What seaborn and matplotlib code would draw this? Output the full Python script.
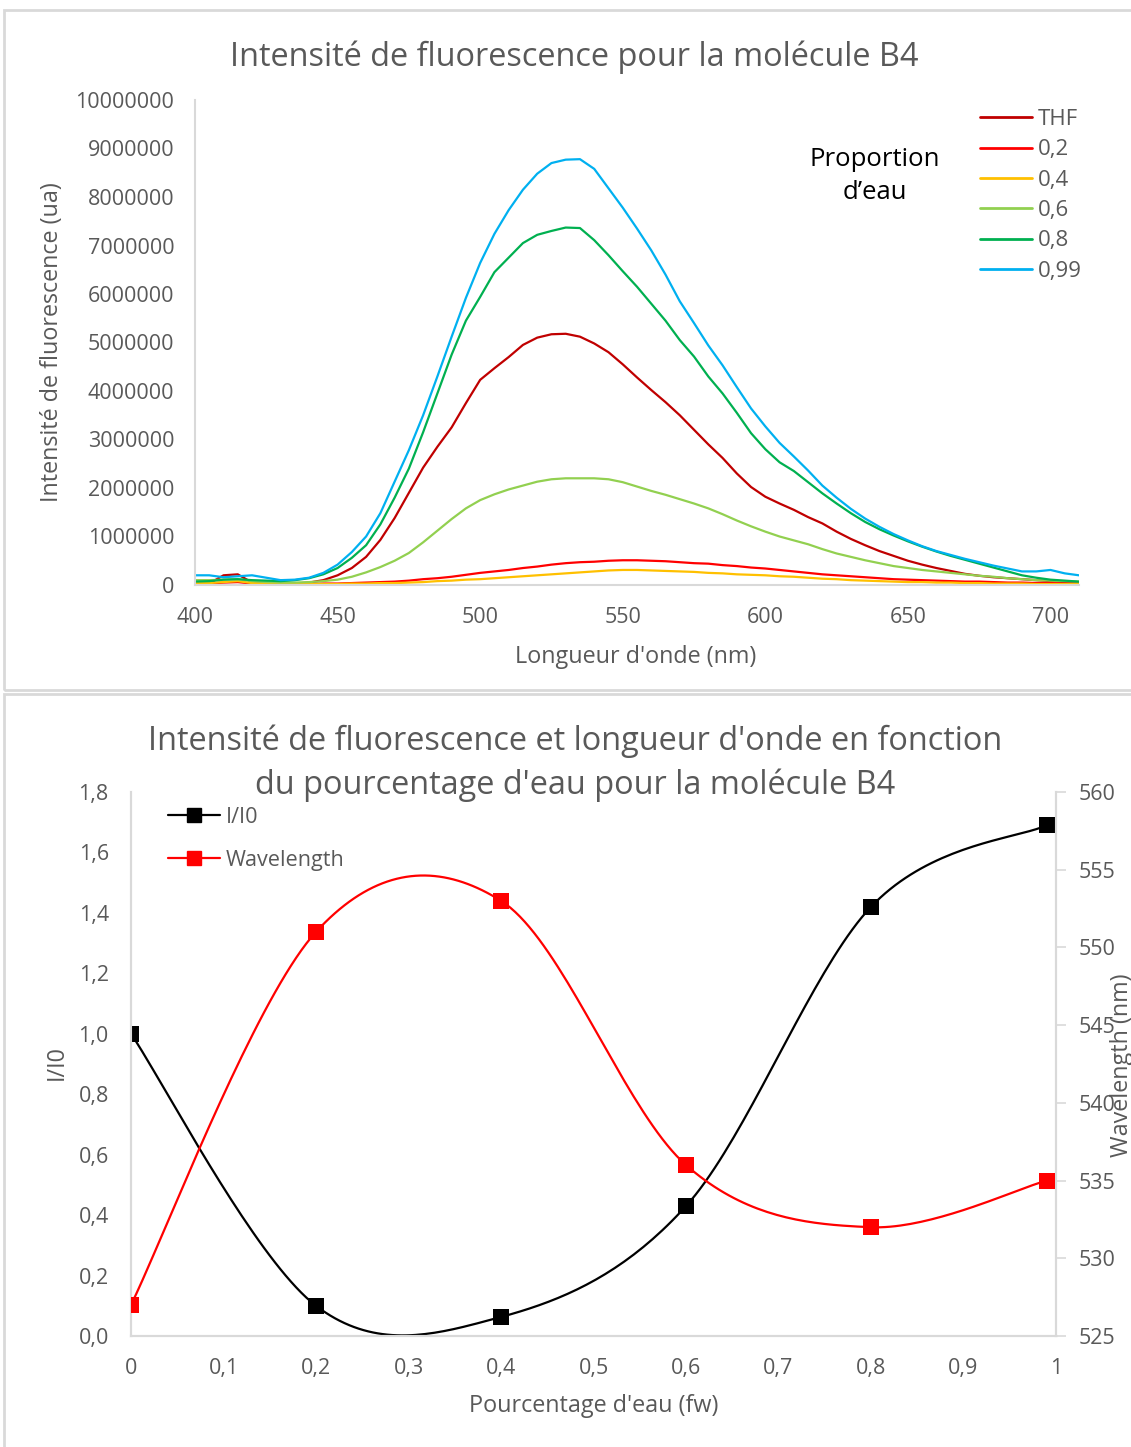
import numpy as np
import pandas as pd
import seaborn as sns
import matplotlib.pyplot as plt
from matplotlib.patches import Rectangle
from matplotlib.lines import Line2D
from matplotlib.ticker import FuncFormatter, MultipleLocator

# ---- spectra (intensity in millions of a.u.), read every 5 nm ----
wavelengths = list(range(400, 715, 5))

thf = [0.00, 0.03, 0.20, 0.22, 0.05, 0.02, 0.02, 0.03, 0.05, 0.10, 0.20,
       0.35, 0.58, 0.93, 1.38, 1.90, 2.42, 2.85, 3.25, 3.75, 4.23,
       4.47, 4.70, 4.95, 5.10, 5.17, 5.18, 5.12, 4.98, 4.80, 4.55,
       4.28, 4.02, 3.77, 3.50, 3.20, 2.90, 2.62, 2.30, 2.02, 1.82,
       1.68, 1.55, 1.40, 1.27, 1.10, 0.95, 0.82, 0.70, 0.60, 0.50,
       0.42, 0.35, 0.29, 0.23, 0.19, 0.16, 0.14, 0.12, 0.10, 0.08,
       0.06, 0.05]
fw_02 = [0.03, 0.03, 0.05, 0.06, 0.03, 0.02, 0.02, 0.02, 0.02, 0.03, 0.03,
         0.04, 0.05, 0.06, 0.07, 0.09, 0.12, 0.14, 0.17, 0.21, 0.25,
         0.28, 0.31, 0.35, 0.38, 0.42, 0.45, 0.47, 0.48, 0.50, 0.51,
         0.51, 0.50, 0.49, 0.47, 0.45, 0.44, 0.41, 0.39, 0.36, 0.34,
         0.31, 0.28, 0.25, 0.22, 0.20, 0.18, 0.16, 0.14, 0.12, 0.11,
         0.10, 0.09, 0.08, 0.07, 0.07, 0.06, 0.05, 0.05, 0.04, 0.04,
         0.03, 0.03]
fw_04 = [0.04, 0.04, 0.06, 0.08, 0.04, 0.03, 0.02, 0.02, 0.02, 0.02, 0.02,
         0.03, 0.03, 0.04, 0.04, 0.05, 0.06, 0.08, 0.09, 0.11, 0.12,
         0.14, 0.16, 0.18, 0.20, 0.22, 0.24, 0.26, 0.28, 0.30, 0.31,
         0.31, 0.30, 0.29, 0.28, 0.27, 0.25, 0.24, 0.22, 0.21, 0.20,
         0.18, 0.17, 0.15, 0.13, 0.12, 0.10, 0.09, 0.08, 0.07, 0.06,
         0.06, 0.05, 0.05, 0.04, 0.04, 0.03, 0.03, 0.03, 0.02, 0.02,
         0.02, 0.02]
fw_06 = [0.10, 0.10, 0.11, 0.12, 0.08, 0.06, 0.05, 0.05, 0.06, 0.08, 0.11,
         0.17, 0.26, 0.37, 0.50, 0.66, 0.88, 1.12, 1.36, 1.58, 1.75,
         1.87, 1.97, 2.05, 2.13, 2.18, 2.20, 2.20, 2.20, 2.18, 2.12,
         2.03, 1.94, 1.86, 1.77, 1.68, 1.58, 1.46, 1.33, 1.21, 1.10,
         1.00, 0.92, 0.84, 0.74, 0.65, 0.58, 0.51, 0.45, 0.39, 0.35,
         0.31, 0.28, 0.25, 0.22, 0.19, 0.17, 0.14, 0.12, 0.10, 0.09,
         0.08, 0.07]
fw_08 = [0.07, 0.08, 0.11, 0.12, 0.10, 0.09, 0.08, 0.10, 0.14, 0.22, 0.35,
         0.56, 0.82, 1.25, 1.80, 2.40, 3.15, 3.95, 4.75, 5.45, 5.94,
         6.45, 6.75, 7.05, 7.22, 7.30, 7.37, 7.36, 7.11, 6.80, 6.47,
         6.15, 5.80, 5.45, 5.05, 4.71, 4.30, 3.95, 3.55, 3.13, 2.80,
         2.53, 2.35, 2.12, 1.89, 1.68, 1.48, 1.30, 1.15, 1.02, 0.90,
         0.79, 0.69, 0.60, 0.52, 0.44, 0.36, 0.28, 0.20, 0.15, 0.11,
         0.09, 0.07]
fw_099 = [0.20, 0.20, 0.16, 0.18, 0.20, 0.15, 0.10, 0.11, 0.15, 0.25, 0.42,
          0.68, 1.00, 1.48, 2.13, 2.78, 3.50, 4.30, 5.12, 5.92, 6.64,
          7.24, 7.73, 8.15, 8.48, 8.70, 8.77, 8.78, 8.58, 8.18, 7.78,
          7.35, 6.90, 6.40, 5.85, 5.40, 4.94, 4.53, 4.08, 3.64, 3.27,
          2.93, 2.65, 2.36, 2.05, 1.80, 1.57, 1.37, 1.20, 1.05, 0.92,
          0.80, 0.70, 0.62, 0.54, 0.47, 0.40, 0.34, 0.28, 0.28, 0.31,
          0.24, 0.20]

series_names = ["THF", "0,2", "0,4", "0,6", "0,8", "0,99"]
series_colors = ["#C00000", "#FF0000", "#FFC000", "#92D050", "#00B050", "#00B0F0"]

# ---- ratio / wavelength vs water fraction ----
water_frac = [0, 0.2, 0.4, 0.6, 0.8, 0.99]
i_over_i0 = [1.00, 0.10, 0.063, 0.43, 1.42, 1.69]
peak_wl = [527, 551, 553, 536, 532, 535]

W, H = 1131, 1447
GREY = "#595959"
FRAME = "#D9D9D9"

sns.set_theme(style="white")
plt.rcParams["font.family"] = ["Open Sans", "DejaVu Sans"]

fig = plt.figure(figsize=(W / 100, H / 100), dpi=100)


def fx(x):
    return x / W


def fy(y):
    return 1 - y / H


def smooth(xs, ys, n=40):
    """Excel-like smoothed line (Catmull-Rom as cubic Bezier)."""
    pts = np.column_stack([xs, ys]).astype(float)
    p = np.vstack([pts[0], pts, pts[-1]])
    out = []
    t = np.linspace(0, 1, n)[:, None]
    for i in range(1, len(p) - 2):
        p0, p1, p2, p3 = p[i - 1], p[i], p[i + 1], p[i + 2]
        c1 = p1 + (p2 - p0) / 6
        c2 = p2 - (p3 - p1) / 6
        seg = (1 - t) ** 3 * p1 + 3 * (1 - t) ** 2 * t * c1 + 3 * (1 - t) * t ** 2 * c2 + t ** 3 * p2
        out.append(seg if i == 1 else seg[1:])
    out = np.vstack(out)
    return out[:, 0], out[:, 1]


comma1 = FuncFormatter(lambda v, _: f"{v:.1f}".replace(".", ","))
comma_g = FuncFormatter(lambda v, _: f"{v:g}".replace(".", ","))

# panel frames
fig.patches.append(Rectangle((fx(4), fy(690)), fx(1140), fy(10) - fy(690),
                             transform=fig.transFigure, fill=False, ec=FRAME, lw=2))
fig.patches.append(Rectangle((fx(4), fy(1460)), fx(1140), fy(694) - fy(1460),
                             transform=fig.transFigure, fill=False, ec=FRAME, lw=2))

# ================= top chart =================
ax = fig.add_axes([fx(195), fy(585), fx(1079 - 195), fy(100) - fy(585)])
spectra = pd.DataFrame({"nm": wavelengths * 6,
                        "val": np.concatenate([thf, fw_02, fw_04, fw_06, fw_08, fw_099]) * 1e6,
                        "serie": np.repeat(series_names, len(wavelengths))})
sns.lineplot(data=spectra, x="nm", y="val", hue="serie", hue_order=series_names,
             palette=series_colors, linewidth=1.6, ax=ax, legend=True)
ax.set_xlim(400, 710)
ax.set_ylim(0, 10000000)
ax.xaxis.set_major_locator(MultipleLocator(50))
ax.yaxis.set_major_locator(MultipleLocator(1000000))
ax.yaxis.set_major_formatter(FuncFormatter(lambda v, _: f"{int(round(v))}"))
ax.tick_params(length=0, labelsize=15.5, colors=GREY)
ax.tick_params(axis="x", pad=16)
ax.tick_params(axis="y", pad=15)
for s in ["top", "right"]:
    ax.spines[s].set_visible(False)
for s in ["left", "bottom"]:
    ax.spines[s].set_color(FRAME)
    ax.spines[s].set_linewidth(1.5)
ax.set_xlabel("")
ax.set_ylabel("")
ax.patch.set_alpha(0)
leg = ax.legend(loc="upper left", bbox_to_anchor=((980 - 195) / 884, 1 - 9 / 485),
                frameon=False, fontsize=16, handlelength=2.35, handletextpad=0.27,
                labelspacing=0.42, borderpad=0, borderaxespad=0)
for t in leg.get_texts():
    t.set_color(GREY)
for h in leg.get_lines():
    h.set_linewidth(2)

fig.text(fx(574), fy(57), "Intensité de fluorescence pour la molécule B4",
         ha="center", va="center", fontsize=23.4, color=GREY)
fig.text(fx(875), fy(176), "Proportion\nd’eau", ha="center", va="center",
         fontsize=18.5, color="black", linespacing=1.45)
fig.text(fx(636), fy(657), "Longueur d'onde (nm)", ha="center", va="center",
         fontsize=16.8, color=GREY)
fig.text(fx(52), fy(342), "Intensité de fluorescence (ua)", ha="center", va="center",
         rotation=90, fontsize=16.8, color=GREY)

# ================= bottom chart =================
ax1 = fig.add_axes([fx(131), fy(1336), fx(1056 - 131), fy(792) - fy(1336)])
ax2 = ax1.twinx()

sx, sy = smooth(water_frac, i_over_i0)
sns.lineplot(x=sx, y=sy, sort=False, estimator=None, color="black", linewidth=1.6, ax=ax1)
sns.scatterplot(x=water_frac, y=i_over_i0, marker="s", s=120, color="black",
                edgecolor="black", linewidth=0, ax=ax1, zorder=5)

wx, wy = smooth(water_frac, peak_wl)
sns.lineplot(x=wx, y=wy, sort=False, estimator=None, color="#FF0000", linewidth=1.6, ax=ax2)
sns.scatterplot(x=water_frac, y=peak_wl, marker="s", s=120, color="#FF0000",
                edgecolor="#FF0000", linewidth=0, ax=ax2, zorder=5)

ax1.set_xlim(0, 1)
ax1.set_ylim(0, 1.8)
ax2.set_ylim(525, 560)
ax1.xaxis.set_major_locator(MultipleLocator(0.1))
ax1.yaxis.set_major_locator(MultipleLocator(0.2))
ax2.yaxis.set_major_locator(MultipleLocator(5))
ax1.xaxis.set_major_formatter(comma_g)
ax1.yaxis.set_major_formatter(comma1)
ax1.tick_params(length=0, labelsize=15.5, colors=GREY)
ax1.tick_params(axis="x", pad=16)
ax1.tick_params(axis="y", pad=16)
ax2.tick_params(axis="y", length=7, width=1.2, color=FRAME, direction="out",
                labelsize=15.5, labelcolor=GREY, pad=9)
for a in (ax1, ax2):
    a.spines["top"].set_visible(False)
    for s in ["left", "right", "bottom"]:
        a.spines[s].set_color(FRAME)
        a.spines[s].set_linewidth(1.5)
    a.set_xlabel("")
    a.set_ylabel("")
ax1.patch.set_alpha(0)

handles = [Line2D([], [], color="black", lw=1.6, marker="s", markersize=10),
           Line2D([], [], color="#FF0000", lw=1.6, marker="s", markersize=10)]
leg2 = ax2.legend(handles, ["I/I0", "Wavelength"], loc="upper left",
                  bbox_to_anchor=((168 - 131) / 925, 1 - 15 / 544), frameon=False,
                  fontsize=15.6, handlelength=2.4, handletextpad=0.28, labelspacing=1.0,
                  borderpad=0, borderaxespad=0)
for t in leg2.get_texts():
    t.set_color(GREY)

fig.text(fx(575), fy(741), "Intensité de fluorescence et longueur d'onde en fonction",
         ha="center", va="center", fontsize=23.4, color=GREY)
fig.text(fx(575), fy(785), "du pourcentage d'eau pour la molécule B4",
         ha="center", va="center", fontsize=23.4, color=GREY)
fig.text(fx(594), fy(1406), "Pourcentage d'eau (fw)", ha="center", va="center",
         fontsize=16.8, color=GREY)
fig.text(fx(57), fy(1063), "I/I0", ha="center", va="center", rotation=90,
         fontsize=16.8, color=GREY)
fig.text(fx(1122), fy(1065), "Wavelength (nm)", ha="center", va="center", rotation=90,
         fontsize=16.8, color=GREY)

fig.savefig("out.png", dpi=100)
